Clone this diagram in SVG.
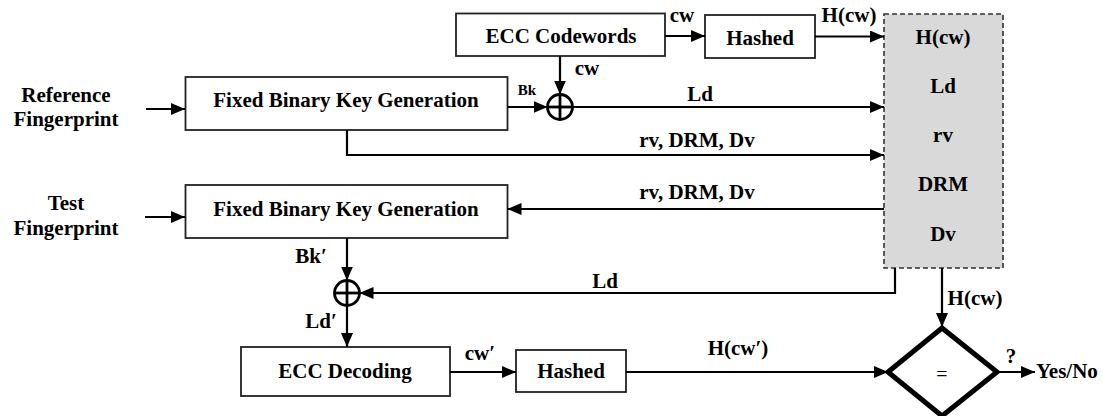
<svg xmlns="http://www.w3.org/2000/svg" width="1103" height="416" viewBox="0 0 1103 416">
  <style>
    .t { font-size: 21px; text-anchor: middle; }
    .s { font-size: 15px; text-anchor: middle; }
    .box { fill: #fff; stroke: #222; stroke-width: 1.8; }
    .ln { fill: none; stroke: #000; stroke-width: 2.2; }
    .xor { fill: none; stroke: #000; stroke-width: 2.8; }
  </style>
  <defs>
    <marker id="ah" viewBox="0 0 14 12" refX="14" refY="6" markerWidth="14" markerHeight="12" markerUnits="userSpaceOnUse" orient="auto">
      <path d="M0,0 L14,6 L0,12 Z" fill="#000"/>
    </marker>
  </defs>

  <g font-family="Liberation Serif, Times New Roman, serif" font-weight="bold">
  <!-- inputs -->
  <g id="ref-fp">
    <text class="t" x="66" y="102">Reference</text>
    <text class="t" x="66" y="126">Fingerprint</text>
  </g>
  <g id="test-fp">
    <text class="t" x="66" y="210">Test</text>
    <text class="t" x="66" y="235">Fingerprint</text>
  </g>

  <!-- enrollment blocks -->
  <g id="keygen-ref">
    <rect class="box" x="185.5" y="77" width="322" height="53"/>
    <text class="t" x="346" y="107">Fixed Binary Key Generation</text>
  </g>
  <g id="ecc-codewords">
    <rect class="box" x="456" y="13.5" width="209" height="42.5"/>
    <text class="t" x="561" y="43">ECC Codewords</text>
  </g>
  <g id="hash-enroll">
    <rect class="box" x="705" y="15" width="110" height="43"/>
    <text class="t" x="760" y="45">Hashed</text>
  </g>
  <g id="xor-enroll">
    <circle class="xor" cx="560" cy="107" r="12.5"/>
    <line class="xor" x1="547.5" y1="107" x2="572.5" y2="107"/>
    <line class="xor" x1="560" y1="94.5" x2="560" y2="119.5"/>
  </g>

  <!-- stored helper data -->
  <g id="helper-data">
    <rect x="884" y="14" width="119" height="254" fill="#d9d9d9" stroke="#333" stroke-width="1.6" stroke-dasharray="5,3"/>
    <text class="t" x="943" y="44">H(cw)</text>
    <text class="t" x="943" y="93">Ld</text>
    <text class="t" x="943" y="142">rv</text>
    <text class="t" x="943" y="191">DRM</text>
    <text class="t" x="943" y="241">Dv</text>
  </g>

  <!-- verification blocks -->
  <g id="keygen-test">
    <rect class="box" x="185.5" y="185" width="322" height="53"/>
    <text class="t" x="346" y="216">Fixed Binary Key Generation</text>
  </g>
  <g id="xor-verify">
    <circle class="xor" cx="347" cy="293" r="12.5"/>
    <line class="xor" x1="334.5" y1="293" x2="359.5" y2="293"/>
    <line class="xor" x1="347" y1="280.5" x2="347" y2="305.5"/>
  </g>
  <g id="ecc-decoding">
    <rect class="box" x="241" y="347" width="209" height="49"/>
    <text class="t" x="345" y="378">ECC Decoding</text>
  </g>
  <g id="hash-verify">
    <rect class="box" x="516" y="350" width="110" height="42"/>
    <text class="t" x="571" y="378">Hashed</text>
  </g>
  <g id="compare">
    <polygon points="942,328 997,372 942,416 888,372" fill="#fff" stroke="#000" stroke-width="5" stroke-linejoin="miter"/>
    <text x="942" y="381" font-size="20" font-weight="normal" text-anchor="middle">=</text>
  </g>
  <g id="result">
    <text x="1036" y="378" font-size="21">Yes/No</text>
  </g>

  <!-- connectors -->
  <g id="connectors">
    <line class="ln" x1="146" y1="109" x2="185" y2="109" marker-end="url(#ah)"/>
    <line class="ln" x1="507.5" y1="107" x2="547.5" y2="107" marker-end="url(#ah)"/>
    <line class="ln" x1="560" y1="56" x2="560" y2="94.5" marker-end="url(#ah)"/>
    <line class="ln" x1="572.5" y1="107" x2="884" y2="107" marker-end="url(#ah)"/>
    <polyline class="ln" points="347,130 347,155 884,155" marker-end="url(#ah)"/>
    <line class="ln" x1="665" y1="36" x2="705" y2="36" marker-end="url(#ah)"/>
    <line class="ln" x1="815" y1="36.5" x2="884" y2="36.5" marker-end="url(#ah)"/>

    <line class="ln" x1="145" y1="217" x2="185" y2="217" marker-end="url(#ah)"/>
    <line class="ln" x1="884" y1="209" x2="507.5" y2="209" marker-end="url(#ah)"/>
    <line class="ln" x1="347" y1="238" x2="347" y2="280.5" marker-end="url(#ah)"/>
    <polyline class="ln" points="895,268 895,293 359.5,293" marker-end="url(#ah)"/>
    <line class="ln" x1="347" y1="305.5" x2="347" y2="347" marker-end="url(#ah)"/>
    <line class="ln" x1="450" y1="372" x2="516" y2="372" marker-end="url(#ah)"/>
    <line class="ln" x1="626" y1="372" x2="888" y2="372" marker-end="url(#ah)"/>
    <line class="ln" x1="942" y1="268" x2="942" y2="327" marker-end="url(#ah)"/>
    <line class="ln" x1="998" y1="372" x2="1035" y2="372" marker-end="url(#ah)"/>

    <!-- connector labels -->
    <text class="t" x="682" y="22">cw</text>
    <text class="t" x="849" y="22">H(cw)</text>
    <text class="t" x="587" y="75">cw</text>
    <text class="s" x="527" y="95">Bk</text>
    <text class="t" x="700" y="101">Ld</text>
    <text class="t" x="697" y="147">rv, DRM, Dv</text>
    <text class="t" x="697" y="199">rv, DRM, Dv</text>
    <text class="t" x="311" y="263">Bk′</text>
    <text class="t" x="605" y="288">Ld</text>
    <text class="t" x="321" y="328">Ld′</text>
    <text class="t" x="480" y="360">cw′</text>
    <text class="t" x="738" y="355">H(cw′)</text>
    <text class="t" x="975" y="305">H(cw)</text>
    <text class="t" x="1011" y="363">?</text>
  </g>
  </g>
</svg>
